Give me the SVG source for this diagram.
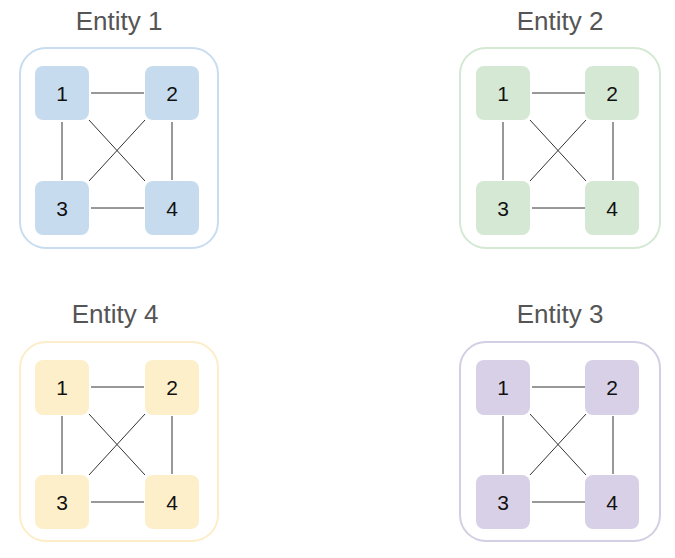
<svg xmlns="http://www.w3.org/2000/svg" width="675" height="558" viewBox="0 0 675 558">
<style>
.title{font-family:"Liberation Sans",Arial,sans-serif;font-size:26px;fill:#555;text-anchor:middle}
.lbl{font-family:"Liberation Sans",Arial,sans-serif;font-size:21px;fill:#111;text-anchor:middle}
.frame{fill:none;stroke-width:2}
.edge{stroke:#333;stroke-width:1;fill:none}
.b .frame{stroke:#c8ddef}.b rect.n{fill:#c6dcee}
.g .frame{stroke:#d5e8d4}.g rect.n{fill:#d5e8d4}
.y .frame{stroke:#fdeec9}.y rect.n{fill:#feefcb}
.p .frame{stroke:#d3cee3}.p rect.n{fill:#d7d0e6}
</style>
<defs>
<g id="edges">
<line class="edge" x1="91" y1="93" x2="144" y2="93"/>
<line class="edge" x1="62" y1="122" x2="62" y2="180"/>
<line class="edge" x1="172" y1="122" x2="172" y2="180"/>
<line class="edge" x1="91" y1="208" x2="144" y2="208"/>
<line class="edge" x1="89" y1="120" x2="145" y2="181"/>
<line class="edge" x1="145" y1="120" x2="89" y2="181"/>
</g>
</defs>

<g id="entity1" class="b">
<text class="title" x="119" y="30">Entity 1</text>
<rect class="frame" x="20" y="48" width="198" height="200" rx="26"/>
<g id="e1n1"><rect class="n" x="35" y="66" width="54" height="54" rx="8"/><text class="lbl" x="62" y="101">1</text></g>
<g id="e1n2"><rect class="n" x="145" y="66" width="54" height="54" rx="8"/><text class="lbl" x="172" y="101">2</text></g>
<g id="e1n3"><rect class="n" x="35" y="181" width="54" height="54" rx="8"/><text class="lbl" x="62" y="216">3</text></g>
<g id="e1n4"><rect class="n" x="145" y="181" width="54" height="54" rx="8"/><text class="lbl" x="172" y="216">4</text></g>
</g>

<g id="entity2" class="g">
<text class="title" x="560" y="30">Entity 2</text>
<rect class="frame" x="460" y="48" width="200" height="200" rx="26"/>
<g id="e2n1"><rect class="n" x="476" y="66" width="54" height="54" rx="8"/><text class="lbl" x="503" y="101">1</text></g>
<g id="e2n2"><rect class="n" x="585" y="66" width="54" height="54" rx="8"/><text class="lbl" x="612" y="101">2</text></g>
<g id="e2n3"><rect class="n" x="476" y="181" width="54" height="54" rx="8"/><text class="lbl" x="503" y="216">3</text></g>
<g id="e2n4"><rect class="n" x="585" y="181" width="54" height="54" rx="8"/><text class="lbl" x="612" y="216">4</text></g>
</g>

<g id="entity4" class="y">
<text class="title" x="115" y="323">Entity 4</text>
<rect class="frame" x="20" y="342" width="198" height="199" rx="26"/>
<g id="e4n1"><rect class="n" x="35" y="360" width="54" height="55" rx="8"/><text class="lbl" x="62" y="395">1</text></g>
<g id="e4n2"><rect class="n" x="145" y="360" width="54" height="55" rx="8"/><text class="lbl" x="172" y="395">2</text></g>
<g id="e4n3"><rect class="n" x="35" y="475" width="54" height="54" rx="8"/><text class="lbl" x="62" y="510">3</text></g>
<g id="e4n4"><rect class="n" x="145" y="475" width="54" height="54" rx="8"/><text class="lbl" x="172" y="510">4</text></g>
</g>

<g id="entity3" class="p">
<text class="title" x="560" y="323">Entity 3</text>
<rect class="frame" x="460" y="342" width="200" height="199" rx="26"/>
<g id="e3n1"><rect class="n" x="476" y="360" width="54" height="55" rx="8"/><text class="lbl" x="503" y="395">1</text></g>
<g id="e3n2"><rect class="n" x="585" y="360" width="54" height="55" rx="8"/><text class="lbl" x="612" y="395">2</text></g>
<g id="e3n3"><rect class="n" x="476" y="475" width="54" height="54" rx="8"/><text class="lbl" x="503" y="510">3</text></g>
<g id="e3n4"><rect class="n" x="585" y="475" width="54" height="54" rx="8"/><text class="lbl" x="612" y="510">4</text></g>
</g>

<g id="connectors">
<use href="#edges"/>
<use href="#edges" transform="translate(441,0)"/>
<use href="#edges" transform="translate(0,294)"/>
<use href="#edges" transform="translate(441,294)"/>
</g>
</svg>
